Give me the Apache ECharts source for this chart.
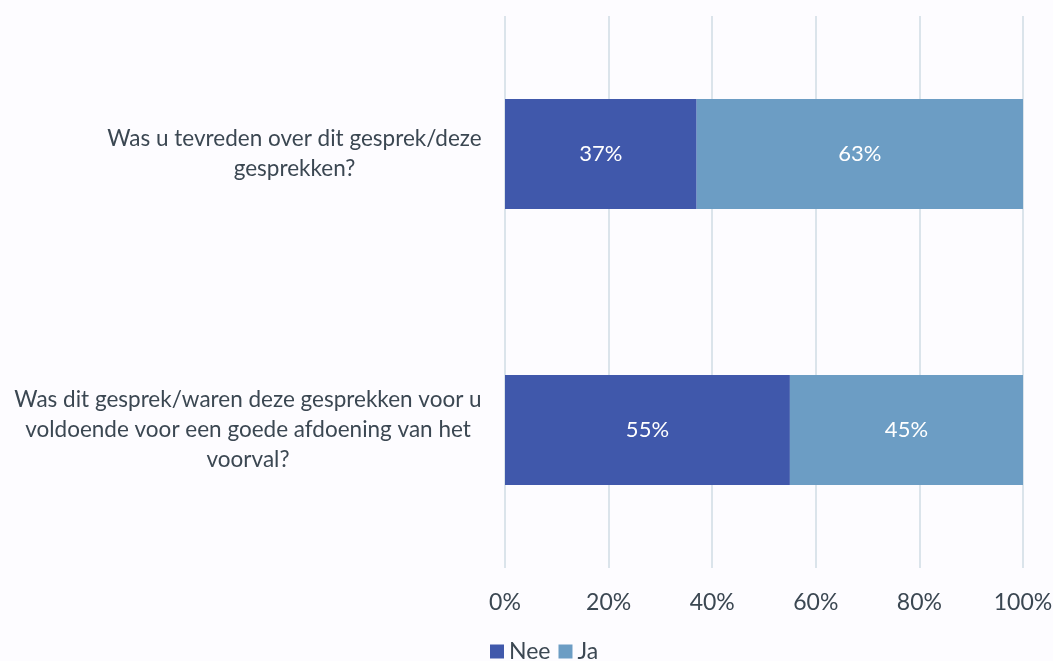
<!DOCTYPE html>
<html lang="nl">
<head>
    <meta charset="UTF-8">
    <title>Tevredenheid gesprekken</title>
    <script src="https://cdn.jsdelivr.net/npm/echarts@6/dist/echarts.min.js"></script>
    <style>
        html, body {
            margin: 0;
            padding: 0;
            overflow: hidden;
            background-color: #fdfcff;
        }
        #chart {
            width: 1053px;
            height: 661px;
        }
    </style>
</head>
<body>
    <div id="chart"></div>
    <script>
        // vragen (elke vraag als lijst van regels, zoals in het origineel afgebroken)
        var questions = [
            ['Was u tevreden over dit gesprek/deze', 'gesprekken?'],
            ['Was dit gesprek/waren deze gesprekken voor u', 'voldoende voor een goede afdoening van het', 'voorval?']
        ];
        var nee = [37, 55];
        var ja = [63, 45];
        var ticks = [0, 20, 40, 60, 80, 100];

        var FONT = 'Lato, "Open Sans", sans-serif';
        var LABEL_SIZE = 22.5;
        var TEXT = '#3b4752';

        // breedte van de langste regel meten zodat de regels gecentreerd blijven
        var ctx = document.createElement('canvas').getContext('2d');
        ctx.font = LABEL_SIZE + 'px Lato';
        var rich = {};
        questions.forEach(function (lines, i) {
            var w = 0;
            lines.forEach(function (l) { w = Math.max(w, ctx.measureText(l).width); });
            rich['q' + i] = {
                width: Math.ceil(w) + 2,
                align: 'center',
                fontFamily: FONT,
                fontSize: LABEL_SIZE,
                color: TEXT,
                lineHeight: 30
            };
        });
        var categories = questions.map(function (lines) { return lines.join('\n'); });

        var chart = echarts.init(document.getElementById('chart'));
        chart.setOption({
            backgroundColor: '#fdfcff',
            animation: false,
            textStyle: { fontFamily: FONT },
            color: ['#4058ab', '#6c9dc4'],
            grid: { left: 505, right: 30, top: 16, bottom: 93, outerBoundsMode: 'none' },
            legend: {
                left: 485,
                top: 635,
                itemWidth: 14,
                itemHeight: 14,
                itemGap: 8,
                icon: 'rect',
                textStyle: { fontSize: 23, color: TEXT },
                data: ['Nee', 'Ja']
            },
            xAxis: {
                type: 'value',
                min: 0,
                max: 100,
                interval: 20,
                axisLine: { show: false },
                axisTick: { show: false },
                splitLine: { lineStyle: { color: '#dbe4eb', width: 2 } },
                axisLabel: {
                    margin: 23,
                    fontSize: 23,
                    color: TEXT,
                    formatter: function (v) { return ticks.indexOf(v) >= 0 ? v + '%' : ''; }
                }
            },
            yAxis: {
                type: 'category',
                inverse: true,
                data: categories,
                axisLine: { show: false },
                axisTick: { show: false },
                axisLabel: {
                    margin: 22,
                    align: 'right',
                    formatter: function (value, idx) {
                        var lines = value.split('\n');
                        return lines.map(function (l) { return '{q' + idx + '|' + l + '}'; }).join('\n');
                    },
                    rich: rich
                }
            },
            series: [
                {
                    name: 'Nee',
                    type: 'bar',
                    stack: 'totaal',
                    barWidth: 110,
                    data: nee,
                    label: {
                        show: true,
                        color: '#ffffff',
                        fontSize: 22,
                        formatter: '{c}%'
                    }
                },
                {
                    name: 'Ja',
                    type: 'bar',
                    stack: 'totaal',
                    barWidth: 110,
                    data: ja,
                    label: {
                        show: true,
                        color: '#ffffff',
                        fontSize: 22,
                        formatter: '{c}%'
                    }
                }
            ]
        });
    </script>
</body>
</html>
